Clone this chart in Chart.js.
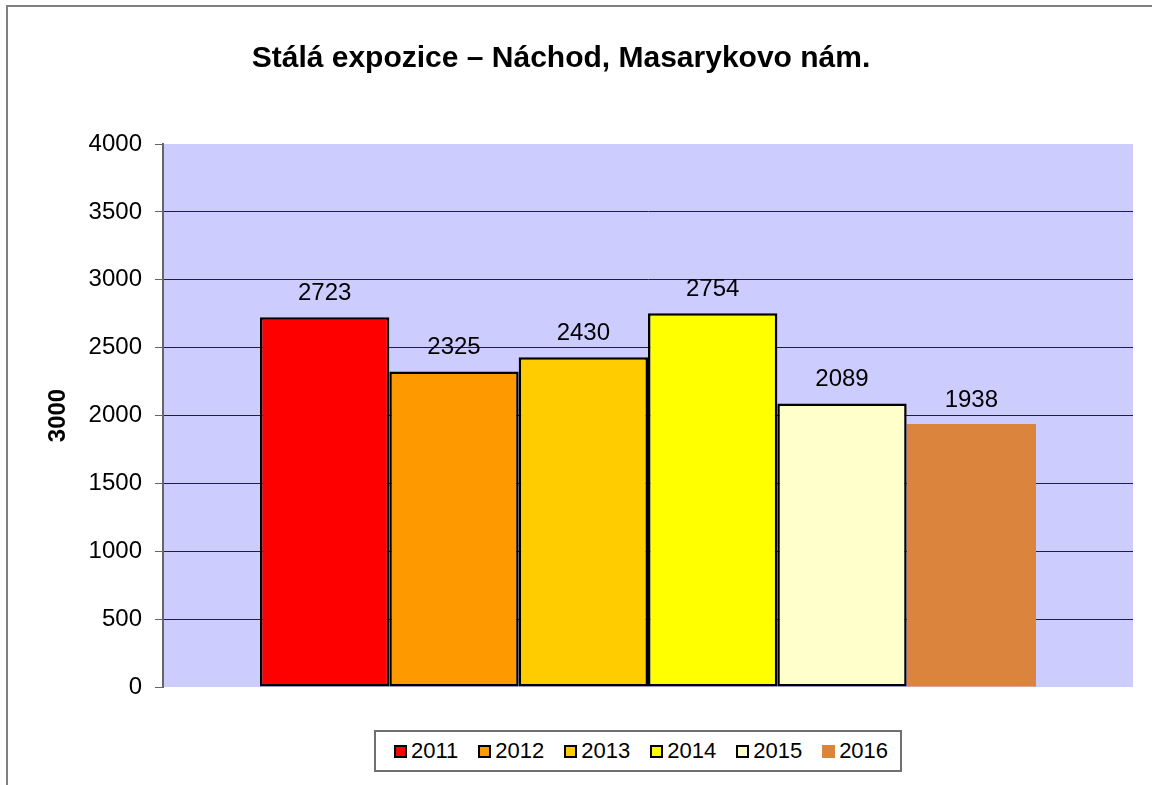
<!DOCTYPE html>
<html>
<head>
<meta charset="utf-8">
<script src="https://cdn.jsdelivr.net/npm/chart.js@4.4.0/dist/chart.umd.min.js"></script>
<style>
  body { margin: 0; background: #fff; }
  #wrap { position: relative; width: 1152px; height: 785px; overflow: hidden; font-family: "Liberation Sans", Arial, sans-serif; }
  #frame { position: absolute; left: 6px; top: 5px; width: 1300px; height: 900px; border-left: 2px solid #808080; border-top: 2px solid #808080; }
  #visitChart { position: absolute; left: 0; top: 0; }
  #customLegend { position: absolute; left: 374px; top: 730px; width: 524px; height: 38px; border: 2px solid #707070; background: #fff; }
  #customLegend ul { list-style: none; margin: 0; padding: 0 0 0 18px; display: flex; align-items: center; height: 100%; }
  #customLegend li { display: flex; align-items: center; margin-right: 20px; }
  #customLegend span { display: inline-block; width: 9px; height: 9px; border: 2px solid #000; margin-right: 4px; }
  #customLegend p { margin: 0; font-size: 22px; line-height: 24px; color: #000; }
</style>
</head>
<body>
<div id="wrap">
  <div id="frame"></div>
  <canvas id="visitChart" width="1152" height="785"></canvas>
  <div id="chartLegend"></div>
</div>
<script>
const chartTitle = "Stálá expozice – Náchod, Masarykovo nám.";
const axisTitle = "3000";
const years = ["2011", "2012", "2013", "2014", "2015", "2016"];
const visitors = [2723, 2325, 2430, 2754, 2089, 1938];
const barColors = ["#FF0000", "#FF9900", "#FFCC00", "#FFFF00", "#FFFFCC", "#DB843D"];
const barBorders = [2.5, 2.5, 2.5, 2.5, 2.5, 0];
const yMax = 4000;
const yStep = 500;

const fontFamily = '"Liberation Sans", Arial, sans-serif';

// plot area background
const plotBackground = {
  id: "plotBackground",
  beforeDraw(chart) {
    const { ctx, chartArea } = chart;
    ctx.save();
    ctx.fillStyle = "#CCCCFF";
    ctx.fillRect(chartArea.left, chartArea.top, chartArea.right - chartArea.left, chartArea.bottom - chartArea.top);
    ctx.restore();
  },
};

// value labels above bars + title
const valueLabels = {
  id: "valueLabels",
  afterDatasetsDraw(chart) {
    const ctx = chart.ctx;
    ctx.save();
    ctx.fillStyle = "#000";
    ctx.textAlign = "center";
    ctx.textBaseline = "alphabetic";
    ctx.font = "24px " + fontFamily;
    chart.data.datasets.forEach((dataset, i) => {
      const bar = chart.getDatasetMeta(i).data[0];
      ctx.fillText(String(dataset.data[0]), bar.x, bar.y - 17);
    });
    ctx.font = "bold 30px " + fontFamily;
    ctx.fillText(chartTitle, 561, 67);
    ctx.restore();
  },
};

function generateLegend(locationID) {
  const location = document.getElementById(locationID);
  const div = document.createElement("DIV");
  div.setAttribute("id", "customLegend");
  const ul = document.createElement("UL");

  years.forEach((year, index) => {
    const li = document.createElement("LI");
    const spanBox = document.createElement("SPAN");
    spanBox.style.backgroundColor = barColors[index];
    if (barBorders[index] === 0) {
      spanBox.style.border = "none";
      spanBox.style.width = "13px";
      spanBox.style.height = "13px";
    }
    const p = document.createElement("P");
    p.appendChild(document.createTextNode(year));
    li.appendChild(spanBox);
    li.appendChild(p);
    ul.appendChild(li);
  });

  div.appendChild(ul);
  location.appendChild(div);
}

const datasets = years.map((year, index) => ({
  label: year,
  data: [visitors[index]],
  backgroundColor: barColors[index],
  borderColor: "#000",
  borderWidth: barBorders[index],
  borderSkipped: false,
  categoryPercentage: 0.8,
  barPercentage: 1.0,
}));

const ctx = document.getElementById("visitChart");
const visitChart = new Chart(ctx, {
  type: "bar",
  data: {
    labels: [""],
    datasets: datasets,
  },
  options: {
    responsive: false,
    animation: false,
    layout: {
      padding: { left: 40, top: 144, right: 19, bottom: 98 },
    },
    scales: {
      x: {
        display: false,
      },
      y: {
        min: 0,
        max: yMax,
        afterFit(scale) {
          scale.width = 123;
        },
        ticks: {
          stepSize: yStep,
          color: "#000",
          padding: 13,
          font: { family: fontFamily, size: 24 },
          callback: (value) => String(value),
        },
        grid: {
          color: (c) => (c.tick && (c.tick.value === 0 || c.tick.value === yMax) ? "rgba(0,0,0,0)" : "#222"),
          tickColor: "#666",
          tickLength: 8,
          lineWidth: 1,
        },
        border: {
          color: "#666",
          width: 2,
        },
        title: {
          display: true,
          text: axisTitle,
          color: "#000",
          padding: { top: 4, bottom: 4 },
          font: { family: fontFamily, size: 24, weight: "bold" },
        },
      },
    },
    plugins: {
      legend: { display: false },
      tooltip: { enabled: false },
      title: { display: false },
    },
  },
  plugins: [plotBackground, valueLabels],
});

generateLegend("chartLegend");
</script>
</body>
</html>
